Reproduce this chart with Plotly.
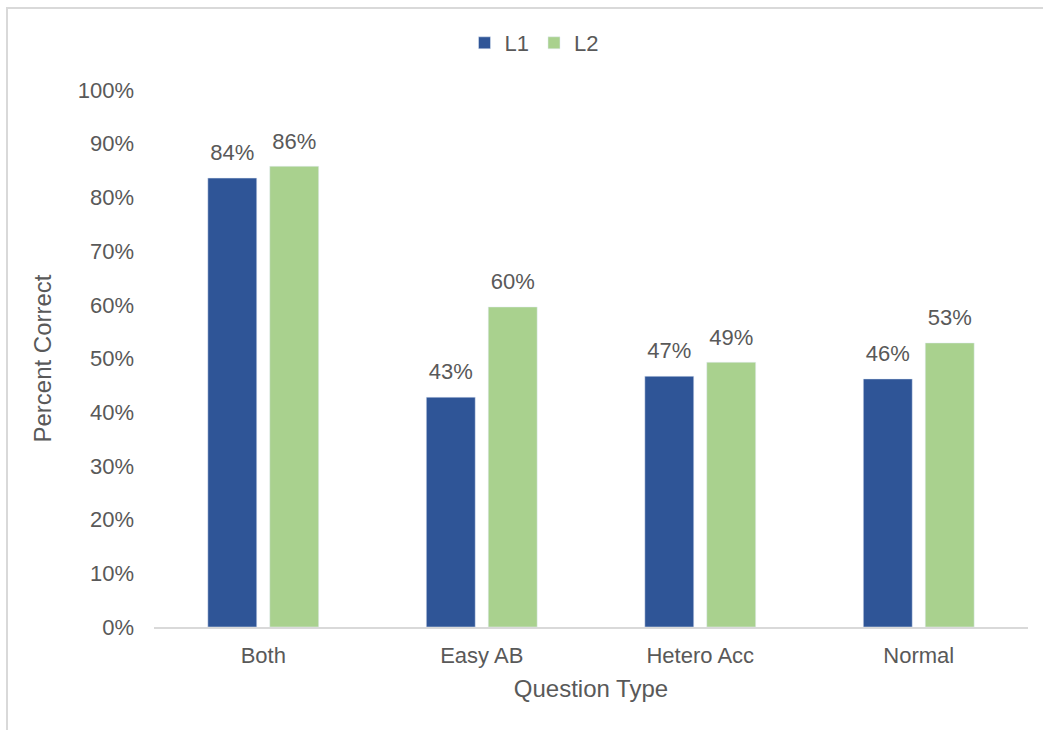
import plotly.graph_objects as go

# Question types and percent correct per language group
categories = ["Both", "Easy AB", "Hetero Acc", "Normal"]
l1_correct = [0.836, 0.428, 0.467, 0.462]
l2_correct = [0.858, 0.596, 0.493, 0.529]
y_ticks = [0, 0.1, 0.2, 0.3, 0.4, 0.5, 0.6, 0.7, 0.8, 0.9, 1.0]
y_tick_labels = ["0%", "10%", "20%", "30%", "40%", "50%", "60%", "70%", "80%", "90%", "100%"]

TEXT = "#595959"
FONT = "Liberation Sans, Arial, sans-serif"
BLUE = "#2F5597"
GREEN = "#A9D18E"

fig = go.Figure()
for name, vals, color in [("L1", l1_correct, BLUE), ("L2", l2_correct, GREEN)]:
    fig.add_trace(go.Bar(
        name=name, x=categories, y=vals,
        marker=dict(color=color),
        offsetgroup=name,
        hoverinfo="x+y",
    ))

# value labels, grouped the same way as the bars so they sit above each bar
for name, vals in [("L1", l1_correct), ("L2", l2_correct)]:
    fig.add_trace(go.Scatter(
        x=categories, y=vals, mode="markers+text",
        offsetgroup=name,
        marker=dict(size=18, opacity=0),
        text=[f"{round(v * 100)}%" for v in vals], textposition="top center",
        textfont=dict(size=22, color=TEXT, family=FONT),
        showlegend=False, hoverinfo="skip", cliponaxis=False,
    ))

# plot area geometry in pixels (used for the frame and legend)
W, H = 1043, 730
L, R, T, B = 154, 15, 90, 103
pw, ph = W - L - R, H - T - B


def px_x(p):
    return (p - L) / pw


def px_y(p):
    return (H - B - p) / ph


fig.update_layout(
    width=W, height=H,
    margin=dict(l=L, r=R, t=T, b=B, autoexpand=False),
    paper_bgcolor="white", plot_bgcolor="white",
    font=dict(family=FONT, color=TEXT, size=22),
    barmode="group", bargap=0.433, bargroupgap=0.21,
    scattermode="group", scattergap=0.433,
    showlegend=True,
    legend=dict(
        orientation="h", x=px_x(534), y=px_y(43),
        xanchor="center", yanchor="middle",
        font=dict(size=22, color=TEXT, family=FONT),
        itemwidth=30, tracegroupgap=0,
    ),
    xaxis=dict(
        showline=True, linecolor="#D9D9D9", linewidth=2,
        ticks="", showgrid=False, zeroline=False,
        tickfont=dict(size=22, color=TEXT),
        ticklabelstandoff=8,
        title=dict(text="Question Type", font=dict(size=24, color=TEXT), standoff=13),
        automargin=False,
    ),
    yaxis=dict(
        range=[0, 1.0], tickvals=y_ticks, ticktext=y_tick_labels,
        showline=False, showgrid=False, zeroline=False, ticks="",
        tickfont=dict(size=22, color=TEXT),
        ticklabelstandoff=19,
        title=dict(text="Percent Correct", font=dict(size=24, color=TEXT), standoff=19),
        automargin=False,
    ),
    shapes=[dict(
        type="rect", xref="paper", yref="paper",
        x0=px_x(7), y0=px_y(760), x1=px_x(1080), y1=px_y(8),
        line=dict(color="#D9D9D9", width=2), fillcolor="rgba(0,0,0,0)",
        layer="below",
    )],
)

fig.write_html("out.html")
